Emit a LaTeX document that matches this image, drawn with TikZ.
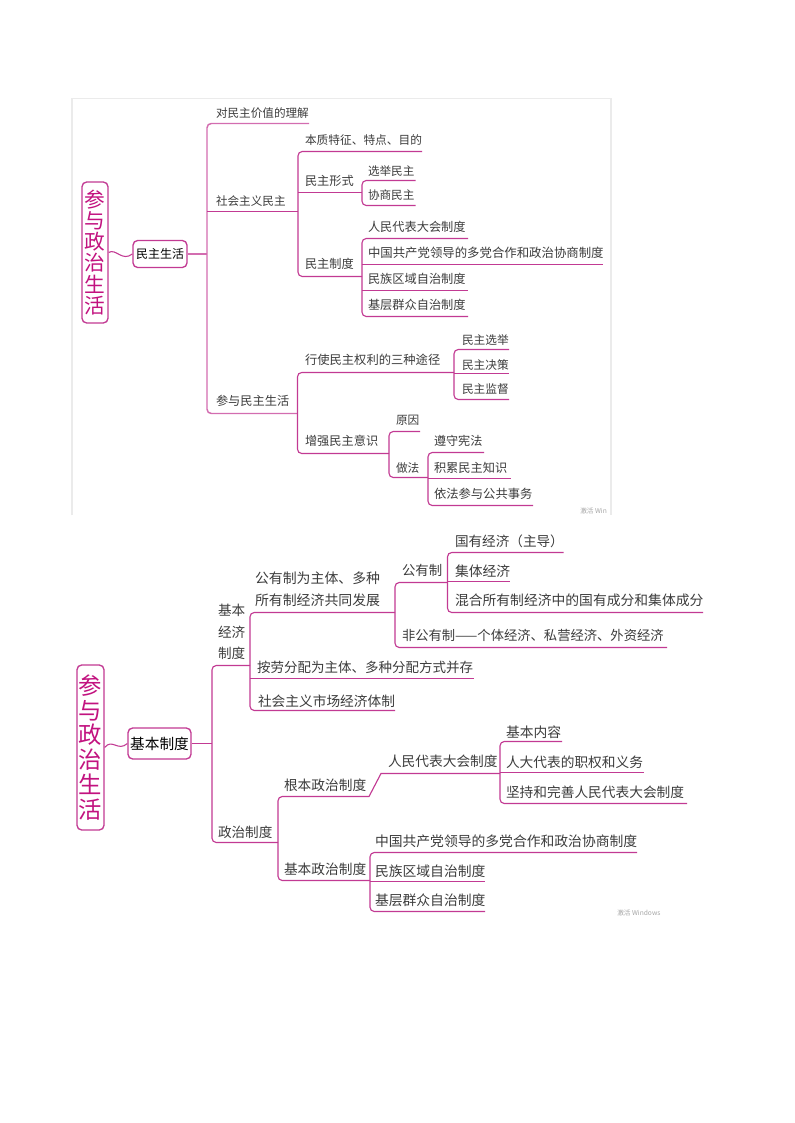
\documentclass[tikz,border=0pt]{standalone}
\usepackage{fontspec}
\setmainfont{Noto Sans CJK SC}
\definecolor{ln}{HTML}{C23A93}
\definecolor{lnb}{HTML}{D36DB0}
\definecolor{tx}{HTML}{3C3C3C}
\definecolor{ttl}{HTML}{C2127F}
\definecolor{frm}{HTML}{EBEBEB}
\newlength{\lw}\newlength{\ld}\newlength{\lf}\newlength{\lh}
% \leaf{name}{bus x}{text x}{end x}{line y}{text centre y}{font px}{text}
\newcommand{\leaf}[8]{%
  \pgfmathsetlength{\lw}{(#4-#2)*0.75pt}%
  \pgfmathsetlength{\ld}{(#3-#2)*0.75pt}%
  \pgfmathsetlength{\lf}{#7*0.75pt}%
  \pgfmathsetlength{\lh}{(#5-#6)*1.5pt}%
  \node[leafnode,minimum height=\lh,anchor=south west] (#1) at (#2,#5)
    {\hbox to \lw{\hskip\ld\fontsize{\lf}{1.15\lf}\selectfont\vphantom{国}#8\hss}};}
\newcommand{\stk}[2]{\vbox{\baselineskip=#1\lineskiplimit=-10pt\relax\halign{##\hfil\cr#2\crcr}}}
\newcommand{\busline}[2]{\draw[link,rounded corners=3.2pt] (#1.south east) -- (#1.south west) -- (#2.south west) -- (#2.south east);}
\newcommand{\tail}[1]{\draw[link] (#1.south west) -- (#1.south east);}
\tikzset{
  leafnode/.style={inner sep=0pt,outer sep=0pt,text=tx},
  link/.style={draw=ln,line width=0.85pt},
  tbox/.style={draw=ln,line width=1pt,rounded corners=3.5pt,inner sep=0pt,fill=white,align=center},
  wave/.style={draw=ln,line width=0.8pt},
  mark text/.style={inner sep=0pt,text=black!35}
}
\begin{document}
\begin{tikzpicture}[x=0.75pt,y=-0.75pt]
\useasboundingbox (0,0) rectangle (794,1123);
\fill[white] (0,0) rectangle (794,1123);
\draw[frm,line width=0.8pt] (72,515) -- (72,98.5) -- (611,98.5) -- (611,515);

% ---------- first map ----------
\node[tbox,minimum width=19.5pt,minimum height=105.75pt,text=ttl,font=\fontsize{15.5pt}{15.8pt}\selectfont] (t1) at (95,252.5)
  {参\\与\\政\\治\\生\\活};
\node[tbox,minimum width=40.5pt,minimum height=20.25pt,text=black,font=\fontsize{9pt}{10pt}\selectfont] (b1) at (160,254)
  {民主生活};
\draw[wave] (t1.east) .. controls (116,248) and (122,262) .. (b1.west);

\leaf{a1}{207}{216}{309}{123.5}{113}{11.6}{对民主价值的理解}
\leaf{a2}{207}{216}{298}{211.5}{201}{11.6}{社会主义民主}
\leaf{a3}{207}{216}{297.5}{413.5}{401}{12.2}{参与民主生活}
\draw[link,draw=lnb,rounded corners=3.2pt,line width=1.1pt] (a1.south east) -- (a1.south west) -- (a3.south west) -- (a3.south east);
\draw[link,draw=lnb,line width=1.1pt] (b1.east) -- (a1.south west |- b1.east);
\tail{a2}

\leaf{c1}{298}{305}{422}{151.5}{140}{11.7}{本质特征、特点、目的}
\leaf{c2}{298}{305}{362}{192.5}{181}{12.2}{民主形式}
\leaf{c3}{298}{305}{362}{276.5}{264}{12.2}{民主制度}
\busline{c1}{c3}\tail{c2}

\leaf{d1}{362}{368}{415.5}{180.5}{171}{11.6}{选举民主}
\leaf{d2}{362}{368}{415.5}{205.5}{195}{11.6}{协商民主}
\busline{d1}{d2}
\leaf{e1}{362}{368}{468}{238.5}{227}{12.2}{人民代表大会制度}
\leaf{e2}{362}{368}{603}{264.5}{253}{12.4}{中国共产党领导的多党合作和政治协商制度}
\leaf{e3}{362}{368}{468}{290.5}{279}{12.2}{民族区域自治制度}
\leaf{e4}{362}{368}{468}{316.5}{305}{12.2}{基层群众自治制度}
\busline{e1}{e4}\tail{e2}\tail{e3}

\leaf{f1}{297.5}{305}{454}{372.5}{360}{12.3}{行使民主权利的三种途径}
\leaf{f2}{297.5}{305}{389}{453.5}{441}{12.2}{增强民主意识}
\busline{f1}{f2}
\leaf{g1}{454}{462}{509}{349.5}{340}{11.7}{民主选举}
\leaf{g2}{454}{462}{509}{373.5}{365}{11.7}{民主决策}
\leaf{g3}{454}{462}{509}{399.5}{389}{11.7}{民主监督}
\busline{g1}{g3}\tail{g2}
\leaf{h1}{389}{396}{420}{431.5}{420}{11.7}{原因}
\leaf{h2}{389}{396}{428}{477.5}{468}{11.7}{做法}
\busline{h1}{h2}
\leaf{i1}{428}{434}{484}{452.5}{441}{12.1}{遵守宪法}
\leaf{i2}{428}{434}{511}{478.5}{468}{12.2}{积累民主知识}
\leaf{i3}{428}{434}{533}{505.5}{494}{12.3}{依法参与公共事务}
\busline{i1}{i3}\tail{i2}
\node[mark text,anchor=west] (wm1) at (580,511) {\fontsize{5pt}{6pt}\selectfont 激活 Win};

% ---------- second map ----------
\node[tbox,minimum width=20.25pt,minimum height=123.75pt,text=ttl,font=\fontsize{17.5pt}{18.7pt}\selectfont] (t2) at (90.5,747.5)
  {参\\与\\政\\治\\生\\活};
\node[tbox,minimum width=47.25pt,minimum height=23.25pt,text=black,font=\fontsize{11pt}{12pt}\selectfont] (b2) at (159.5,743.5)
  {基本制度};
\draw[wave] (t2.east) .. controls (112,738) and (118,752) .. (b2.west);

\leaf{m1}{212}{218}{250}{665.5}{632}{13.6}{\stk{16pt}{基本\cr 经济\cr 制度}}
\leaf{m2}{212}{218}{278}{842.5}{832}{13.6}{政治制度}
\busline{m1}{m2}
\draw[link] (b2.east) -- (m1.south west |- b2.east);

\leaf{n1}{250}{255}{395}{612.5}{589}{13.9}{\stk{16.5pt}{公有制为主体、多种\cr 所有制经济共同发展}}
\leaf{n2}{250}{257}{474}{678.5}{667}{13.5}{按劳分配为主体、多种分配方式并存}
\leaf{n3}{250}{258}{395}{710.5}{701}{13.7}{社会主义市场经济体制}
\busline{n1}{n3}\tail{n2}

\leaf{o1}{395}{402}{447.5}{582.5}{570}{13.4}{公有制}
\leaf{o2}{395}{402}{667}{647.5}{635}{13.3}{非公有制——个体经济、私营经济、外资经济}
\busline{o1}{o2}
\leaf{p1}{447.5}{455}{563.5}{552.5}{541}{13.6}{国有经济（主导）}
\leaf{p2}{447.5}{455}{510}{581.5}{571}{13.8}{集体经济}
\leaf{p3}{447.5}{455}{703}{612.5}{600}{13.8}{混合所有制经济中的国有成分和集体成分}
\busline{p1}{p3}\tail{p2}

\leaf{q1}{278}{284}{369}{796.5}{785}{13.7}{根本政治制度}
\leaf{q2}{278}{284}{370}{880.5}{869}{13.7}{基本政治制度}
\busline{q1}{q2}
\leaf{r1}{381}{388}{500}{773.5}{761}{13.7}{人民代表大会制度}
\draw[link] (q1.south east) -- (r1.south west) -- (r1.south east);
\leaf{s1}{500}{506}{562}{741.5}{732}{13.8}{基本内容}
\leaf{s2}{500}{506}{644}{772.5}{762}{13.7}{人大代表的职权和义务}
\leaf{s3}{500}{506}{687}{803.5}{792}{13.7}{坚持和完善人民代表大会制度}
\busline{s1}{s3}\tail{s2}
\leaf{u1}{370}{375}{637}{852.5}{841}{13.8}{中国共产党领导的多党合作和政治协商制度}
\leaf{u2}{370}{375}{485}{881.5}{871}{13.8}{民族区域自治制度}
\leaf{u3}{370}{375}{485}{911.5}{900}{13.8}{基层群众自治制度}
\busline{u1}{u3}\tail{u2}
\node[mark text,anchor=west] (wm2) at (617,913) {\fontsize{5pt}{6pt}\selectfont 激活 Windows};
\end{tikzpicture}
\end{document}
